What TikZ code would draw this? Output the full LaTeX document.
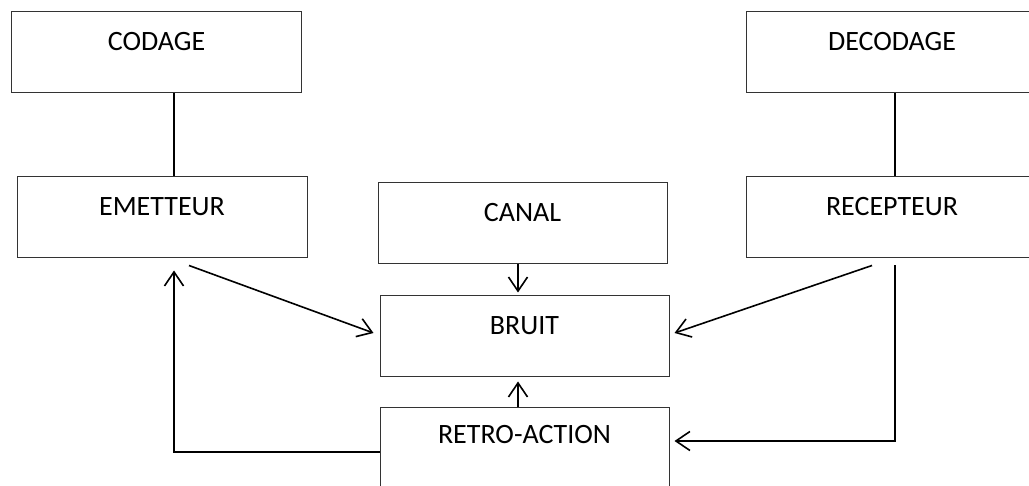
\documentclass[tikz,border=0pt]{standalone}
\usepackage{fontspec}
\setmainfont{Carlito}
\usetikzlibrary{arrows.meta,calc}

\begin{document}
\begin{tikzpicture}[x=0.5pt,y=-0.5pt,
  box/.style={draw=black!80,line width=0.5pt,minimum width=145pt,minimum height=40.5pt,
    inner sep=0pt,text height=9pt,text depth=10.5pt,font=\fontsize{14}{16}\selectfont},
  link/.style={line width=0.8pt},
  flow/.style={line width=0.8pt,-{Straight Barb[length=7pt,width=9.5pt,line width=0.8pt]}}]

\clip (0,0) rectangle (1029,486);

% Boxes
\node[box] (codage) at (156.5,52.5) {CODAGE};
\node[box,minimum width=146pt] (decodage) at (892,52.5) {DECODAGE};
\node[box] (emetteur) at (162,217.5) {EMETTEUR};
\node[box,minimum width=146pt] (recepteur) at (892,217.5) {RECEPTEUR};
\node[box,minimum width=144.5pt] (canal) at (522.5,223.5) {CANAL};
\node[box,minimum width=144.5pt] (bruit) at (524.5,336.5) {BRUIT};
\node[box,minimum width=144.5pt,minimum height=50pt,text depth=23pt] (retro) at (524.5,458) {RETRO-ACTION};

% Links
\coordinate (cod) at ($(codage.south)+(17.5,0)$);
\coordinate (dec) at ($(decodage.south)+(3,0)$);
\draw[link] (cod) -- (cod |- emetteur.north);
\draw[link] (dec) -- (dec |- recepteur.north);

% Arrows to the noise
\draw[flow] ($(canal.south)+(-4.5,0)$) -- ($(canal.south)+(-4.5,28)$);
\draw[flow] ($(retro.north)+(-6.5,0)$) -- ($(bruit.south)+(-6.5,4)$);
\draw[flow] ($(emetteur.south)+(27,7)$) -- ($(bruit.west)+(-6,-3.5)$);
\draw[flow] ($(recepteur.south)+(-20,7)$) -- ($(bruit.east)+(5,-3.5)$);

% Feedback
\draw[flow] ($(recepteur.south)+(3,7)$) |- ($(retro.east)+(5,-17)$);
\draw[flow] ($(retro.west)+(0,-6)$) -| ($(emetteur.south)+(12,12)$);

\end{tikzpicture}
\end{document}
